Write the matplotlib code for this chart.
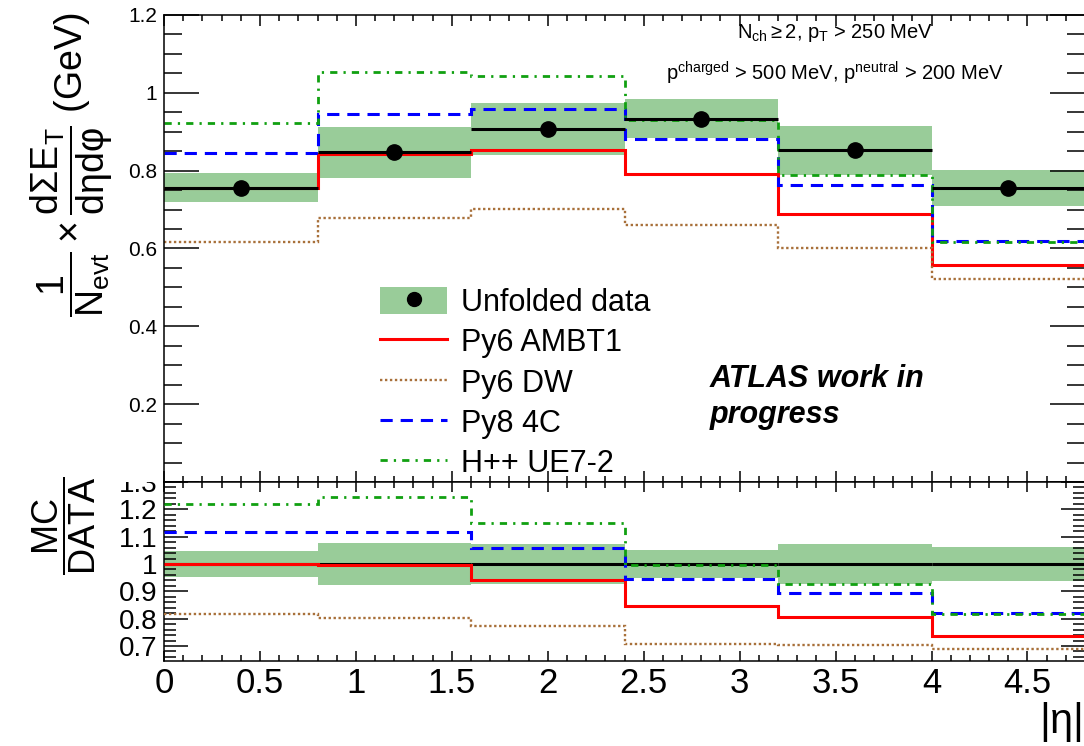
import numpy as np
import matplotlib
matplotlib.use("Agg")
import matplotlib.pyplot as plt
from matplotlib.patches import Patch, Rectangle
from matplotlib.lines import Line2D
from matplotlib.ticker import MultipleLocator, FuncFormatter

plt.rcParams['font.family'] = ['Liberation Sans', 'DejaVu Sans']
plt.rcParams['mathtext.fontset'] = 'custom'
plt.rcParams['mathtext.rm'] = 'Liberation Sans'
plt.rcParams['mathtext.it'] = 'Liberation Sans:italic'
plt.rcParams['mathtext.bf'] = 'Liberation Sans:bold'
plt.rcParams['mathtext.default'] = 'regular'

# |eta| bins and the transverse energy flow per bin
eta_edges = [0.0, 0.8, 1.6, 2.4, 3.2, 4.0, 4.8]
data = [0.756, 0.847, 0.906, 0.934, 0.853, 0.755]
data_err = [0.037, 0.065, 0.067, 0.049, 0.063, 0.046]
py6_ambt1 = [0.756, 0.844, 0.853, 0.791, 0.688, 0.557]
py6_dw = [0.617, 0.679, 0.701, 0.660, 0.601, 0.521]
py8_4c = [0.845, 0.945, 0.958, 0.881, 0.763, 0.619]
hpp_ue72 = [0.923, 1.054, 1.043, 0.929, 0.789, 0.617]

edges = np.array(eta_edges)
centers = 0.5 * (edges[1:] + edges[:-1])
widths = np.diff(edges)
d = np.array(data)
e = np.array(data_err)

band_col = '#99cc99'
models = [
    (py6_ambt1, 'Py6 AMBT1', '#ff0000', 2.2, '-'),
    (py6_dw, 'Py6 DW', '#a8703a', 1.7, (0, (1, 1.1))),
    (py8_4c, 'Py8 4C', '#0000ff', 2.2, (0, (4, 2.6))),
    (hpp_ue72, 'H++ UE7-2', '#11a011', 2.0, (0, (2.6, 2.2, 0.8, 2.2))),
]

W, H = 1084, 746
fig = plt.figure(figsize=(W / 100, H / 100), dpi=100)
left = 164 / W
width = (1085 - 164) / W
ax1 = fig.add_axes([left, 1 - 482 / H, width, (482 - 15) / H])
ax2 = fig.add_axes([left, 1 - 661 / H, width, (661 - 482) / H])

# upper pad: data band, model histograms, data points
ax1.bar(centers, 2 * e, bottom=d - e, width=widths, color=band_col, lw=0, zorder=1)
for vals, name, col, lw, ls in models:
    ax1.stairs(vals, edges, baseline=None, color=col, lw=lw, linestyle=ls, zorder=2)
ax1.errorbar(centers, d, xerr=widths / 2, fmt='o', color='black', ms=11,
             elinewidth=2.2, capsize=0, zorder=4)

# lower pad: ratio to data
ax2.bar(centers, 2 * e / d, bottom=1 - e / d, width=widths, color=band_col, lw=0, zorder=1)
ax2.errorbar(centers, np.ones_like(d), xerr=widths / 2, fmt='none', ecolor='black',
             elinewidth=2.2, capsize=0, zorder=2)
for vals, name, col, lw, ls in models:
    ax2.stairs(np.array(vals) / d, edges, baseline=None, color=col, lw=lw,
               linestyle=ls, zorder=3)

fmt = FuncFormatter(lambda v, p: '' if abs(v) < 1e-9 else '%g' % round(v, 3))
for ax in (ax1, ax2):
    ax.set_xlim(0, 4.8)
    ax.xaxis.set_major_locator(MultipleLocator(0.5))
    ax.xaxis.set_minor_locator(MultipleLocator(0.1))
    for s in ax.spines.values():
        s.set_linewidth(1.1)
    ax.tick_params(which='both', direction='in', top=True, right=True, width=1.1)

ax1.set_ylim(0, 1.2)
ax1.yaxis.set_major_locator(MultipleLocator(0.2))
ax1.yaxis.set_minor_locator(MultipleLocator(0.05))
ax1.yaxis.set_major_formatter(fmt)
ax1.tick_params(axis='y', which='major', length=25, labelsize=15, pad=5)
ax1.tick_params(axis='y', which='minor', length=13)
ax1.tick_params(axis='x', which='major', length=8, labelbottom=False)
ax1.tick_params(axis='x', which='minor', length=4)

ax2.set_ylim(0.645, 1.3)
ax2.yaxis.set_major_locator(MultipleLocator(0.1))
ax2.yaxis.set_minor_locator(MultipleLocator(0.02))
ax2.yaxis.set_major_formatter(FuncFormatter(lambda v, p: '%g' % round(v, 3)))
ax2.xaxis.set_major_formatter(FuncFormatter(lambda v, p: '%g' % round(v, 3)))
ax2.tick_params(axis='y', which='major', length=17, labelsize=20, pad=5)
ax2.tick_params(axis='y', which='minor', length=8.5)
ax2.tick_params(axis='x', which='major', length=7, labelsize=25, pad=4)
ax2.tick_params(axis='x', which='minor', length=4)

# the upper pad hides the top of the ratio's highest label
fig.add_artist(Rectangle((108 / W, 1 - 482 / H), (160 - 108) / W, 25 / H,
                         transform=fig.transFigure, facecolor='white',
                         edgecolor='none', zorder=5))

fig.text(72 / W, 1 - 13 / H,
         r'$\dfrac{1}{N_{evt}}\times\dfrac{d\Sigma E_{T}}{d\eta d\varphi}$ (GeV)',
         rotation=90, ha='center', va='top', fontsize=27)
fig.text(64 / W, 1 - 526 / H, r'$\dfrac{MC}{DATA}$', rotation=90,
         ha='center', va='center', fontsize=26)
fig.text(1082 / W, 1 - 722 / H, r'$|\eta|$', ha='right', va='center', fontsize=30)

fig.text(835 / W, 1 - 33 / H, r'$N_{ch}\geq 2$, $p_{T}$ > 250 MeV',
         ha='center', va='center', fontsize=14.5)
fig.text(835 / W, 1 - 73 / H, r'$p^{charged}$ > 500 MeV, $p^{neutral}$ > 200 MeV',
         ha='center', va='center', fontsize=14.5)
fig.text(710 / W, 1 - 387 / H, 'ATLAS work in', ha='left', va='baseline',
         fontsize=22, fontweight='bold', fontstyle='italic')
fig.text(710 / W, 1 - 423 / H, 'progress', ha='left', va='baseline',
         fontsize=22, fontweight='bold', fontstyle='italic')

handles = [(Patch(facecolor=band_col, edgecolor='none'),
            Line2D([], [], marker='o', color='black', ls='none', ms=10))]
labels = ['Unfolded data']
for vals, name, col, lw, ls in models:
    handles.append(Line2D([], [], color=col, lw=lw, linestyle=ls))
    labels.append(name)
ax1.legend(handles, labels, loc='upper left', bbox_to_anchor=(380 / W, 1 - 287 / H),
           bbox_transform=fig.transFigure, frameon=False, fontsize=22,
           borderpad=0, borderaxespad=0, handlelength=2.2, handleheight=1.0,
           handletextpad=0.45, labelspacing=0.3)

fig.savefig('out.png', dpi=100)
